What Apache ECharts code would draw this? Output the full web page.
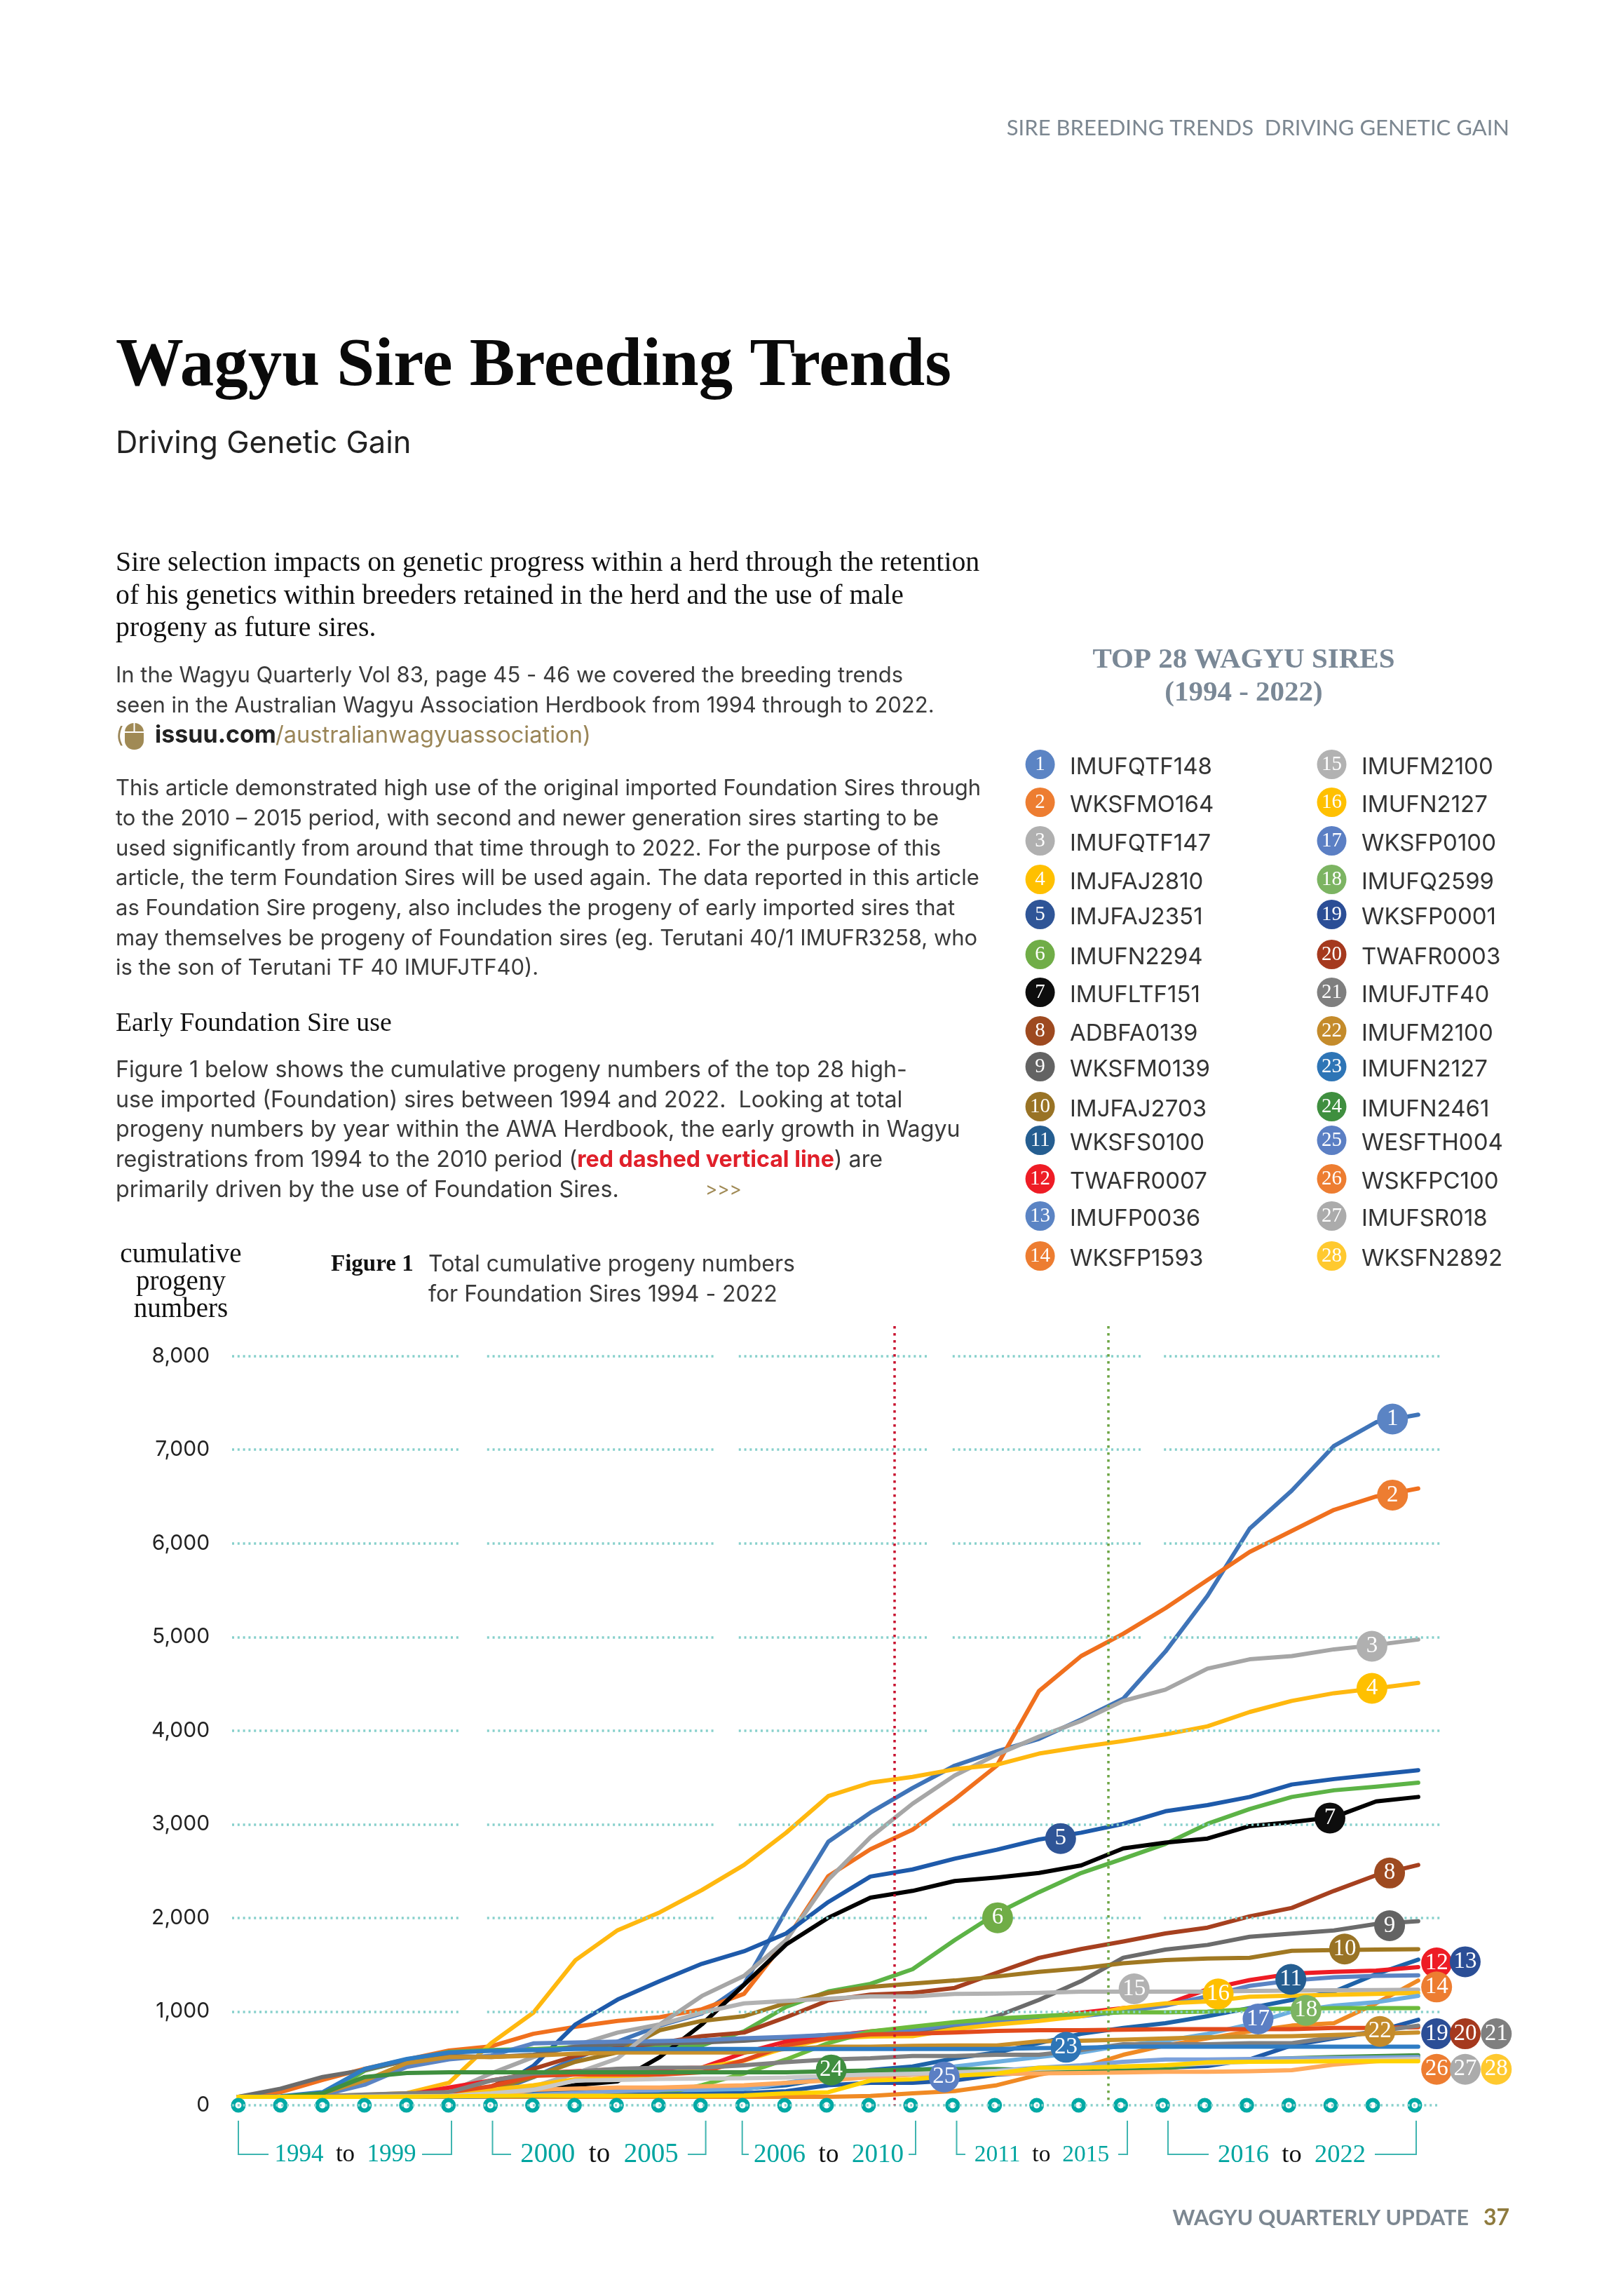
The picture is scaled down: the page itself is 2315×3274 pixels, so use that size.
<!DOCTYPE html>
<html><head><meta charset="utf-8">
<style>html,body{margin:0;padding:0;background:#fff}#c{width:2315px;height:3274px}</style>
<script src="https://cdn.jsdelivr.net/npm/echarts@6/dist/echarts.min.js"></script>
</head><body><div id="c"></div>
<script>
const years=[1994,1995,1996,1997,1998,1999,2000,2001,2002,2003,2004,2005,2006,2007,2008,2009,2010,2011,2012,2013,2014,2015,2016,2017,2018,2019,2020,2021,2022];
const tickValues=[0,1000,2000,3000,4000,5000,6000,7000,8000];
const sireNames=['IMUFQTF148','WKSFMO164','IMUFQTF147','IMJFAJ2810','IMJFAJ2351','IMUFN2294','IMUFLTF151','ADBFA0139','WKSFM0139','IMJFAJ2703','WKSFS0100','TWAFR0007','IMUFP0036','WKSFP1593','IMUFM2100','IMUFN2127','WKSFP0100','IMUFQ2599','WKSFP0001','TWAFR0003','IMUFJTF40','IMUFM2100','IMUFN2127','IMUFN2461','WESFTH004','WSKFPC100','IMUFSR018','WKSFN2892'];
const s1=[90,90,90,95,100,110,130,300,500,680,850,980,1290,2080,2814,3125,3387,3626,3779,3912,4118,4342,4844,5440,6157,6563,7040,7293,7374];
const s2=[90,140,270,390,490,585,630,763,838,900,940,1025,1190,1763,2447,2733,2943,3268,3626,4423,4796,5035,5307,5608,5908,6133,6357,6500,6586];
const s3=[90,90,90,95,110,140,340,514,640,776,863,1167,1382,1763,2408,2862,3220,3521,3745,3936,4103,4318,4438,4662,4762,4796,4868,4915,4973];
const s4=[90,90,100,110,130,240,664,988,1549,1869,2060,2298,2566,2910,3301,3444,3506,3588,3636,3755,3827,3889,3960,4046,4199,4318,4400,4452,4509];
const s5=[90,90,90,92,95,100,150,420,863,1128,1325,1510,1644,1835,2170,2442,2518,2633,2728,2838,2910,3005,3139,3205,3292,3425,3483,3531,3578];
const s6=[90,90,100,370,480,570,590,600,620,630,640,640,790,1050,1215,1296,1453,1764,2050,2275,2480,2633,2790,3005,3163,3292,3363,3402,3444];
const s7=[90,90,90,90,90,90,100,150,215,255,514,863,1286,1716,2002,2217,2289,2394,2432,2480,2561,2743,2805,2848,2981,3024,3077,3244,3292];
const s8=[90,90,90,90,95,110,200,389,526,614,664,738,776,940,1119,1181,1200,1253,1415,1573,1668,1749,1835,1897,2017,2107,2289,2456,2566];
const s9=[90,177,302,377,476,526,514,539,626,651,660,670,688,720,751,751,788,826,951,1125,1325,1575,1662,1712,1799,1832,1867,1936,1966];
const s10=[90,90,90,90,90,100,170,302,464,564,801,901,951,1090,1200,1263,1300,1332,1375,1425,1462,1517,1550,1567,1575,1649,1657,1662,1667];
const s11=[90,90,92,95,100,110,120,130,140,150,155,160,180,214,289,377,414,501,564,664,763,826,876,951,1038,1125,1213,1400,1555];
const s12=[90,90,90,95,110,189,264,339,364,384,394,401,560,680,738,788,826,876,913,938,988,1038,1075,1238,1337,1405,1425,1437,1475];
const s13=[90,90,110,220,410,490,530,660,670,680,685,695,715,730,751,776,801,863,888,913,951,1000,1063,1163,1275,1332,1367,1382,1387];
const s14=[90,90,90,90,90,90,90,90,90,90,90,90,90,90,90,100,127,152,214,327,402,539,639,714,788,851,876,1088,1332];
const s15=[90,90,92,95,95,100,110,200,340,500,860,990,1088,1113,1138,1163,1163,1188,1193,1200,1213,1213,1213,1213,1220,1225,1228,1230,1233];
const s16=[90,90,92,95,105,127,165,214,277,302,330,401,476,614,714,733,738,813,863,901,951,1038,1088,1108,1158,1170,1180,1188,1200];
const s17=[90,90,90,90,90,92,95,100,110,120,130,140,170,239,302,339,377,414,464,514,564,639,688,763,863,1000,1063,1100,1168];
const s18=[90,90,90,90,92,95,100,100,105,110,115,214,340,489,664,788,838,888,926,951,975,993,993,1000,1025,1032,1038,1038,1038];
const s19=[90,90,90,90,90,92,95,100,105,110,115,120,130,150,214,240,240,265,327,352,377,390,402,420,489,639,714,788,913];
const s20=[90,90,92,95,100,140,202,314,327,327,327,352,480,639,714,756,763,776,793,801,801,806,813,813,813,813,826,826,833];
const s21=[90,90,95,115,127,140,264,339,360,389,401,401,426,460,489,501,526,526,539,539,589,651,651,651,663,663,726,788,850];
const s22=[90,90,127,264,451,514,514,530,550,564,564,564,564,600,626,626,634,639,639,683,688,701,714,726,733,738,751,763,776];
const s23=[90,95,140,389,494,564,580,590,600,601,601,601,601,601,601,601,601,601,601,610,614,626,626,626,626,626,626,626,626];
const s24=[90,90,127,302,345,352,352,352,352,352,352,352,352,352,364,370,380,385,385,377,377,380,389,459,484,501,514,525,534];
const s25=[90,90,90,92,95,100,105,110,130,150,165,180,200,235,302,320,327,339,369,401,426,464,489,489,494,500,505,510,514];
const s26=[90,90,90,90,92,95,100,164,177,189,189,202,214,240,264,302,327,330,335,340,345,350,358,358,364,375,435,470,489];
const s27=[90,90,90,92,95,100,127,164,264,270,280,285,289,295,314,327,335,352,365,389,401,414,426,445,465,470,478,485,494];
const s28=[90,90,90,90,92,95,100,102,102,102,102,102,105,127,139,264,277,314,339,401,401,414,426,459,464,466,469,469,469];
const allSeries=[s1,s2,s3,s4,s5,s6,s7,s8,s9,s10,s11,s12,s13,s14,s15,s16,s17,s18,s19,s20,s21,s22,s23,s24,s25,s26,s27,s28];
// where each numbered badge sits, in year / progeny units
const badgeYear=[2021.47,2021.47,2020.98,2020.98,2013.57,2012.07,2019.98,2021.4,2021.4,2020.33,2019.05,2022.52,2023.2,2022.52,2015.32,2017.32,2018.27,2019.41,2022.52,2023.2,2023.94,2021.17,2013.7,2008.11,2010.8,2022.52,2023.2,2023.94];
const badgeValue=[7327,6515,4901,4452,2848,2002,3067,2480,1917,1668,1344,1520,1532,1263,1243,1188,921,1013,763,763,763,788,619,377,302,384,384,384];
const lineColors=['#3F74B8','#F0701E','#A6A6A6','#FFB80F','#1E5AAA','#5CB346','#000000','#A6401F','#6B6B6B','#A07822','#1E63A8','#EE1C25','#5B84C4','#F08A24','#B2B2B2','#FFC20E','#6CAEE0','#6CBB3C','#1F5AA8','#E24A1C','#808080','#C88F2A','#2E7CC4','#3F8F3F','#7CA2DC','#FFA95C','#C8C8C8','#FFD200'];
const badgeColors=['#5B84C4','#ED7D31','#B0B0B0','#FFC000','#2F5597','#70AD47','#0D0D0D','#9E4A20','#636363','#997325','#255E91','#EE1C25','#2B4E96','#ED7D31','#B2B2B2','#FFC000','#5B7FC4','#7CB462','#2B4E96','#A5391E','#7F7F7F','#C48B2B','#2E75B6','#3F8F3F','#5B7FC4','#ED7D31','#ABABAB','#FFC92F'];
const legendColors=badgeColors.map((c,i)=>i===12?'#5B84C4':c);

const SANS='Inter, "Liberation Sans", sans-serif', SERIF='"Liberation Serif", serif';
const g=[];
function T(x,base,text,size,family,fill,weight,align){
  g.push({type:'text',silent:true,style:{x:x,y:base-size*0.34,text:text,fontSize:size,fontFamily:family,fill:fill,fontWeight:weight||'normal',align:align||'left',verticalAlign:'middle'}});
}
T(2153,194,'SIRE BREEDING TRENDS  DRIVING GENETIC GAIN',31,'Lato','#7C8791','normal','right');
T(165,557,'Wagyu Sire Breeding Trends',97,SERIF,'#0a0a0a','bold');
T(165,648,'Driving Genetic Gain',43.4,SANS,'#222');
['Sire selection impacts on genetic progress within a herd through the retention','of his genetics within breeders retained in the herd and the use of male','progeny as future sires.'].forEach((s,i)=>T(165,[817,864,910][i],s,39.8,SERIF,'#111'));
const DARK='#3a3a3a';
['In the Wagyu Quarterly Vol 83, page 45 - 46 we covered the breeding trends','seen in the Australian Wagyu Association Herdbook from 1994 through to 2022.'].forEach((s,i)=>T(165,[974,1017][i],s,31,SANS,DARK));
T(165,1060,'(',31,SANS,'#9A8557');
g.push({type:'rect',silent:true,shape:{x:178,y:1031,width:27,height:38,r:13},style:{fill:'#A08A55'}});
g.push({type:'rect',silent:true,shape:{x:178,y:1043,width:27,height:2},style:{fill:'#fff'}});
g.push({type:'rect',silent:true,shape:{x:190.5,y:1031,width:2,height:13},style:{fill:'#fff'}});
T(221,1060,'issuu.com',34,SANS,'#222','bold');
T(393,1060,'/australianwagyuassociation)',32.6,SANS,'#9A8557');
['This article demonstrated high use of the original imported Foundation Sires through','to the 2010 – 2015 period, with second and newer generation sires starting to be','used significantly from around that time through to 2022. For the purpose of this','article, the term Foundation Sires will be used again. The data reported in this article','as Foundation Sire progeny, also includes the progeny of early imported sires that','may themselves be progeny of Foundation sires (eg. Terutani 40/1 IMUFR3258, who','is the son of Terutani TF 40 IMUFJTF40).'].forEach((s,i)=>T(165,[1135,1178,1221,1263,1306,1349,1391][i],s,31,SANS,DARK));
T(165,1473,'Early Foundation Sire use',37.8,SERIF,'#111');
['Figure 1 below shows the cumulative progeny numbers of the top 28 high-','use imported (Foundation) sires between 1994 and 2022.  Looking at total','progeny numbers by year within the AWA Herdbook, the early growth in Wagyu'].forEach((s,i)=>T(165,[1537,1580,1622][i],s,32.2,SANS,DARK));
g.push({type:'text',silent:true,style:{x:165,y:1665-11,verticalAlign:'middle',text:'{n|registrations from 1994 to the 2010 period (}{r|red dashed vertical line}{n|) are}',rich:{n:{fontSize:32.2,fontFamily:SANS,fill:DARK},r:{fontSize:32.2,fontFamily:SANS,fill:'#E0202A',fontWeight:'bold'}}}});
T(165,1708,'primarily driven by the use of Foundation Sires.',32.2,SANS,DARK);
T(1006,1706,'>>>',26,SANS,'#A08A55');
['cumulative','progeny','numbers'].forEach((s,i)=>T(258,[1803,1842,1881][i],s,39,SERIF,'#111','normal','center'));
T(472,1815,'Figure 1',33,SERIF,'#111','bold');
T(611,1814,'Total cumulative progeny numbers',32,SANS,DARK);
T(611,1857,'for Foundation Sires 1994 - 2022',32,SANS,DARK);
T(1774,955,'TOP 28 WAGYU SIRES',41,SERIF,'#7A8896','bold','center');
T(1774,1002,'(1994 - 2022)',41,SERIF,'#7A8896','bold','center');
const legendY=[1091,1145,1200,1255,1305,1362,1416,1471,1522,1579,1627,1682,1735,1792];
sireNames.forEach((n,i)=>{
  const col=i<14?0:1,row=i%14,cx=col?1899.5:1483.6,tx=col?1942:1526,cy=legendY[row];
  g.push({type:'circle',silent:true,shape:{cx:cx,cy:cy-1,r:21},style:{fill:legendColors[i]}});
  g.push({type:'text',silent:true,style:{x:cx,y:cy-1,text:String(i+1),fontSize:29,fontFamily:SERIF,fill:'#fff',align:'center',verticalAlign:'middle'}});
  g.push({type:'text',silent:true,style:{x:tx,y:cy+3,text:n,fontSize:33,fontFamily:SANS,fill:'#333',verticalAlign:'middle'}});
});
// period brackets under the axis
[[340,383,602,644,'1994','1999',35],[702.5,729,981,1006.6,'2000','2005',39],[1058.7,1068,1296,1306,'2006','2010',37],[1364.5,1377,1595,1608,'2011','2015',33.5],[1666,1724,1961,2020,'2016','2022',36.5]].forEach(b=>{
  g.push({type:'polyline',silent:true,shape:{points:[[b[0],3024],[b[0],3072],[b[1],3072]]},style:{stroke:'#3FB5B0',lineWidth:2,fill:null}});
  g.push({type:'polyline',silent:true,shape:{points:[[b[2],3072],[b[3],3072],[b[3],3024]]},style:{stroke:'#3FB5B0',lineWidth:2,fill:null}});
  g.push({type:'text',silent:true,style:{x:(b[1]+b[2])/2,y:3073,align:'center',verticalAlign:'middle',text:'{a|'+b[4]+'}{b|  to  }{a|'+b[5]+'}',rich:{a:{fontSize:b[6],fontFamily:SERIF,fill:'#00A5A0'},b:{fontSize:b[6],fontFamily:SERIF,fill:'#111'}}}});
});
T(2095,3174,'WAGYU QUARTERLY UPDATE',30.4,'Lato','#7C8791','bold','right');
T(2153,3174,'37',32,'Lato','#8F7B3E','bold','right');

const gridStyle={color:'#86D0CB',width:3.5,type:[3,4.8]};
const segs=[[1993.85,1999.24],[1999.92,2005.31],[2005.91,2010.43],[2011,2015.52],[2016.03,2022.6]];
const gridData=[];
tickValues.forEach(v=>{
  if(v===0){gridData.push([{coord:[1993.85,0]},{coord:[2022.6,0]}]);return;}
  segs.forEach(s=>gridData.push([{coord:[s[0],v]},{coord:[s[1],v]}]));
});
const series=[{type:'line',data:[],silent:true,z:1,markLine:{silent:true,symbol:'none',animation:false,label:{show:false},lineStyle:gridStyle,data:gridData}},
 {type:'line',data:[],silent:true,z:2,markLine:{silent:true,symbol:'none',animation:false,label:{show:false},data:[
   [{coord:[2009.62,8320],lineStyle:{color:'#C8102E',width:3.5,type:[3.5,6.5]}},{coord:[2009.62,0]}],
   [{coord:[2014.7,8320],lineStyle:{color:'#6DA544',width:3.5,type:[3.5,6.5]}},{coord:[2014.7,0]}]]}}];
// the plotted lines run on a second x scale: their vertices are a little wider apart than the axis dots
allSeries.forEach((d,i)=>series.push({type:'line',xAxisIndex:1,name:sireNames[i],data:years.map((y,j)=>[y,d[j]]),showSymbol:false,symbol:'none',silent:true,clip:false,animation:false,z:3,lineStyle:{color:lineColors[i],width:6,join:'round',cap:'round'}}));
series.push({type:'scatter',data:years.map(y=>[y,0]),symbol:'circle',symbolSize:15,silent:true,animation:false,clip:false,z:4,itemStyle:{color:'#fff',borderColor:'#00A9A5',borderWidth:6,opacity:1}});
series.push({type:'scatter',data:badgeYear.map((y,i)=>({value:[y,badgeValue[i]],itemStyle:{color:badgeColors[i],opacity:1},label:{formatter:String(i+1)}})),symbolSize:44,silent:true,animation:false,clip:false,z:5,
  label:{show:true,position:'inside',color:'#fff',fontFamily:SERIF,fontSize:33}});

const hiddenX={type:'value',axisLine:{show:false},axisTick:{show:false},axisLabel:{show:false},splitLine:{show:false}};
const chart=echarts.init(document.getElementById('c'),null,{width:2315,height:3274});
chart.setOption({animation:false,backgroundColor:'#fff',
  grid:{left:280.07,right:117.2,top:1890.9,bottom:272,containLabel:false},
  xAxis:[Object.assign({min:1993,max:2025},hiddenX),Object.assign({min:1993.003,max:2024.91},hiddenX)],
  yAxis:{type:'value',min:0,max:8320,interval:1000,axisLine:{show:false},axisTick:{show:false},splitLine:{show:false},
    axisLabel:{margin:-19,fontSize:30,fontFamily:SANS,color:'#222',showMaxLabel:false,formatter:v=>v.toLocaleString('en-US')}},
  graphic:{elements:g},series:series});
</script></body></html>
